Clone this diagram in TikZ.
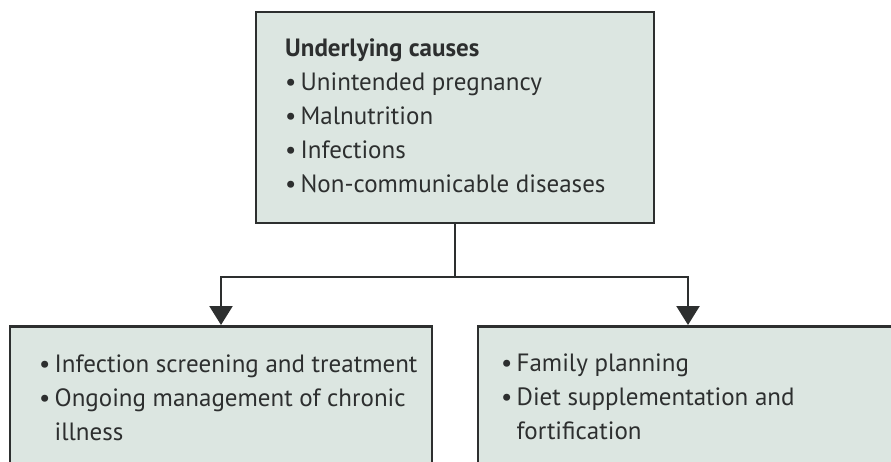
\documentclass[tikz,border=0pt]{standalone}
\usepackage{fontspec}
\setmainfont{PT Sans}
\usepackage{tikz}
\usetikzlibrary{positioning}
\usetikzlibrary{arrows.meta}

\definecolor{boxfill}{RGB}{220,230,225}
\definecolor{ink}{RGB}{45,47,47}

\begin{document}
\begin{tikzpicture}[x=1pt,y=-1pt,>={Triangle[length=19pt,width=23pt]},
  box/.style={draw=ink,line width=2.8pt,fill=boxfill,inner sep=0pt},
  list/.style={anchor=base west,inner sep=0pt,text=ink,font=\fontsize{25}{34}\selectfont},
  link/.style={draw=ink,line width=2.4pt}]
\useasboundingbox (0,0) rectangle (891,462);
\clip (0,0) rectangle (891,462);
\node[box,minimum width=398pt,minimum height=211pt] (cause) at (455,117.5) {};
\node[box,minimum width=422pt,minimum height=200pt,anchor=north] (care) at (221,325) {};
\node[box,minimum width=420pt,minimum height=200pt,anchor=north] (plan) at (688,325) {};
\node[list] (causetext) at (285,57) {\begin{tabular}[t]{@{}l@{\,}l@{}}
  \multicolumn{2}{@{}l@{}}{\bfseries Underlying causes}\\
  \textbullet & Unintended pregnancy\\
  \textbullet & Malnutrition\\
  \textbullet & Infections\\
  \textbullet & Non-communicable diseases
\end{tabular}};
\node[list] (caretext) at (39,372) {\begin{tabular}[t]{@{}l@{\,}l@{}}
  \textbullet & Infection screening and treatment\\
  \textbullet & Ongoing management of chronic\\
  & illness
\end{tabular}};
\node[list] (plantext) at (501,371) {\begin{tabular}[t]{@{}l@{\,}l@{}}
  \textbullet & Family planning\\
  \textbullet & Diet supplementation and\\
  & fortification
\end{tabular}};
\coordinate (split) at (455,277);
\draw[link] (cause.south) -- (split);
\draw[link,->] (split) -| (care.north);
\draw[link,->] (split) -| (plan.north);
\end{tikzpicture}
\end{document}
